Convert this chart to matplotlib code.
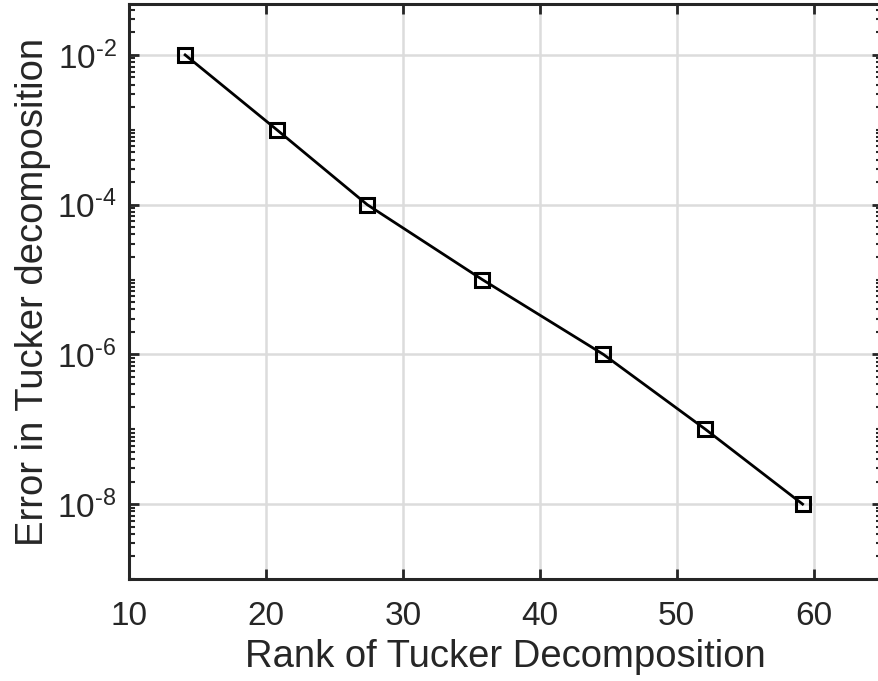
import matplotlib
matplotlib.use("Agg")
import matplotlib.pyplot as plt
from matplotlib.ticker import FixedLocator, LogLocator, FuncFormatter, NullFormatter
import numpy as np

rank = [14.1, 20.8, 27.4, 35.8, 44.65, 52.1, 59.2]
error = [1e-2, 1e-3, 1e-4, 1e-5, 1e-6, 1e-7, 1e-8]
xticks = [10, 20, 30, 40, 50, 60]
yticks = [1e-8, 1e-6, 1e-4, 1e-2]

plt.rcParams['font.family'] = ['Liberation Sans', 'DejaVu Sans']
plt.rcParams['mathtext.fontset'] = 'custom'
plt.rcParams['mathtext.rm'] = 'Liberation Sans'
plt.rcParams['mathtext.it'] = 'Liberation Sans'

W, H = 879, 681
fig = plt.figure(figsize=(W/100, H/100), dpi=100)
left, right, top, bottom = 129, 882, 4, 579
ax = fig.add_axes([left/W, 1-bottom/H, (right-left)/W, (bottom-top)/H])

ax.plot(rank, error, color='black', lw=2.0, marker='s', ms=10,
        mfc='none', mec='black', mew=2.2, zorder=3)
ax.set_yscale('log')
ax.set_xlim(10, 65)
ax.set_ylim(10**-9, 10**-1.32)

ax.xaxis.set_major_locator(FixedLocator(xticks))
ax.yaxis.set_major_locator(FixedLocator(yticks))
ax.yaxis.set_minor_locator(LogLocator(base=10, subs=np.arange(1, 10), numticks=100))
ax.yaxis.set_minor_formatter(NullFormatter())
ax.yaxis.set_major_formatter(FuncFormatter(
    lambda v, p: r'$\mathregular{10^{\text{-}%d}}$' % abs(round(np.log10(v)))))

ax.grid(True, which='major', color='#dcdcdc', lw=1.8)
ax.set_axisbelow(True)
for s in ax.spines.values():
    s.set_linewidth(2.2)
    s.set_color('#262626')
ax.tick_params(which='both', direction='in', top=True, right=True, color='#262626',
               labelsize=24, labelcolor='#262626')
ax.tick_params(which='major', length=7, width=2)
ax.tick_params(which='minor', length=4, width=1.5)
ax.tick_params(axis='x', pad=16)
ax.tick_params(axis='y', pad=9)

ax.set_xlabel('Rank of Tucker Decomposition', fontsize=27.5, color='#262626', labelpad=5)
ax.set_ylabel('Error in Tucker decomposition', fontsize=27.5, color='#262626', labelpad=4)

fig.savefig('out.png', dpi=100)
